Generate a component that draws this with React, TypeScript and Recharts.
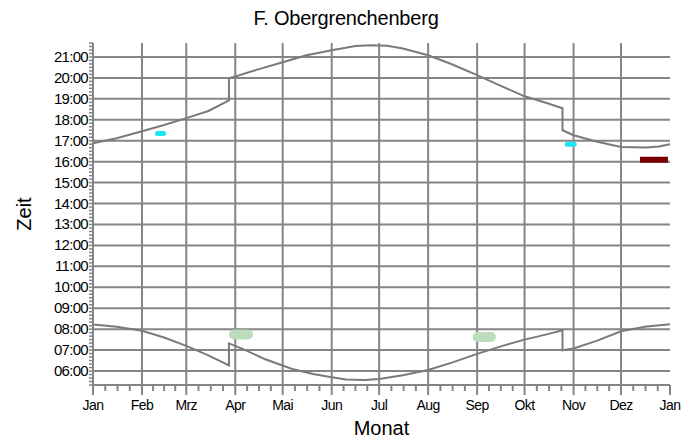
import { ComposedChart, Line, XAxis, YAxis, ReferenceLine } from 'recharts'

const FONT = '"Liberation Sans", Arial, sans-serif'
const GRID = '#858585'
const LINE = '#7a7a7a'

// day of year at the start of each month, and the labels under them
const monthStarts = [0, 31, 59, 90, 120, 151, 181, 212, 243, 273, 304, 334, 365]
const monthLabels = ['Jan', 'Feb', 'Mrz', 'Apr', 'Mai', 'Jun', 'Jul', 'Aug', 'Sep', 'Okt', 'Nov', 'Dez', 'Jan']
const hourTicks = [6, 7, 8, 9, 10, 11, 12, 13, 14, 15, 16, 17, 18, 19, 20, 21]

// sunset (upper curve), hours
const sunsetDays = [0, 15, 31, 45, 59, 73, 86, 86, 90, 105, 120, 135, 151, 166, 176, 186, 196, 212, 227, 243, 258, 273, 287, 297, 297, 304, 319, 334, 350, 358, 365]
const sunsetTimes = [16.88, 17.12, 17.45, 17.75, 18.08, 18.42, 18.93, 19.98, 20.07, 20.42, 20.75, 21.08, 21.32, 21.52, 21.56, 21.53, 21.4, 21.08, 20.65, 20.13, 19.62, 19.12, 18.8, 18.55, 17.5, 17.26, 16.95, 16.7, 16.68, 16.72, 16.83]

// sunrise (lower curve), hours
const sunriseDays = [0, 15, 31, 45, 59, 73, 86, 86, 95, 109, 126, 140, 151, 160, 172, 181, 196, 212, 227, 243, 258, 273, 287, 297, 297, 304, 319, 334, 349, 365]
const sunriseTimes = [8.22, 8.12, 7.92, 7.6, 7.2, 6.75, 6.27, 7.32, 7.05, 6.56, 6.1, 5.85, 5.7, 5.6, 5.57, 5.62, 5.8, 6.05, 6.4, 6.82, 7.18, 7.5, 7.75, 7.95, 6.99, 7.08, 7.45, 7.9, 8.12, 8.23]

// observation marks
const cyanFebDays = [40.8, 44.6]
const cyanFebTimes = [17.35, 17.35]
const cyanNovDays = [300, 304.4]
const cyanNovTimes = [16.83, 16.83]
const redDecDays = [346, 363.7]
const redDecTimes = [16.09, 16.09]
const greenAprDays = [89.2, 98]
const greenAprTimes = [7.75, 7.75]
const greenSepDays = [243.3, 251.7]
const greenSepTimes = [7.63, 7.63]

const toPoints = (days: number[], times: number[]) => days.map((day, i) => ({ day, t: times[i] }))

const xTicks = monthStarts
  .slice(0, -1)
  .flatMap((d, i) => {
    const len = monthStarts[i + 1] - d
    return [0, 1, 2, 3].map((k) => d + (k * len) / 4)
  })
  .concat(365)

const yTicks: number[] = []
for (let m = 32; m <= 130; m += 1) yTicks.push(m / 6)

const XTick = (props: any) => {
  const { x, y, payload } = props
  const i = monthStarts.indexOf(payload.value)
  const major = i >= 0
  return (
    <g>
      <line x1={x} x2={x} y1={y} y2={y + (major ? 10 : 6)} stroke={GRID} strokeWidth={2} />
      {major && (
        <text x={x} y={y + 25} textAnchor="middle" fontSize={14} fontFamily={FONT} fill="#000" letterSpacing={-0.6}>
          {monthLabels[i]}
        </text>
      )}
    </g>
  )
}

const YTick = (props: any) => {
  const { x, y, payload } = props
  const v = payload.value
  const major = Math.abs(v - Math.round(v)) < 1e-6
  return (
    <g>
      <line x1={x - 4} x2={x} y1={y} y2={y} stroke={GRID} strokeWidth={1.5} />
      {major && (
        <text x={x - 5} y={y + 5} textAnchor="end" fontSize={15} fontFamily={FONT} fill="#000" letterSpacing={-0.7}>
          {String(Math.round(v)).padStart(2, '0') + ':00'}
        </text>
      )}
    </g>
  )
}

const ZeitLabel = (props: any) => {
  const vb = props.viewBox
  const cx = vb.x + 31
  const cy = vb.y + vb.height / 2
  return (
    <text x={cx} y={cy} transform={`rotate(-90 ${cx} ${cy})`} textAnchor="middle" fontSize={20} fontFamily={FONT} fill="#000">
      Zeit
    </text>
  )
}

export default function App() {
  return (
    <div style={{ position: 'absolute', left: 0, top: 0, width: 700, height: 439, background: '#fff' }}>
      <div
        style={{
          position: 'absolute',
          left: 0,
          top: 8,
          width: 692,
          textAlign: 'center',
          fontFamily: FONT,
          fontSize: 20,
          lineHeight: 1,
          letterSpacing: -0.2,
          color: '#000',
        }}
      >
        F. Obergrenchenberg
      </div>
      <ComposedChart width={700} height={439} margin={{ top: 43, right: 30, bottom: 0, left: 0 }}>
        <XAxis
          type="number"
          dataKey="day"
          domain={[0, 365]}
          ticks={xTicks}
          interval={0}
          tickSize={0}
          tickMargin={0}
          tickLine={false}
          tick={XTick}
          height={54}
          axisLine={{ stroke: GRID, strokeWidth: 2 }}
          label={{ value: 'Monat', position: 'insideBottom', offset: 4, fontSize: 20, fontFamily: FONT, fill: '#000' }}
        />
        <YAxis
          type="number"
          domain={[32 / 6, 130 / 6]}
          allowDataOverflow
          ticks={yTicks}
          interval={0}
          tickSize={0}
          tickMargin={0}
          tickLine={false}
          tick={YTick}
          width={93}
          axisLine={{ stroke: GRID, strokeWidth: 2 }}
          label={ZeitLabel}
        />
        {hourTicks.map((h) => (
          <ReferenceLine key={'h' + h} y={h} stroke={GRID} strokeWidth={2} />
        ))}
        {monthStarts.slice(1, -1).map((d) => (
          <ReferenceLine key={'m' + d} x={d} stroke={GRID} strokeWidth={2} />
        ))}
        <Line data={toPoints(sunsetDays, sunsetTimes)} dataKey="t" type="linear" stroke={LINE} strokeWidth={2} dot={false} activeDot={false} isAnimationActive={false} />
        <Line data={toPoints(sunriseDays, sunriseTimes)} dataKey="t" type="linear" stroke={LINE} strokeWidth={2} dot={false} activeDot={false} isAnimationActive={false} />
        <Line data={toPoints(cyanFebDays, cyanFebTimes)} dataKey="t" stroke="#1ee6f0" strokeWidth={5} strokeLinecap="round" dot={false} activeDot={false} isAnimationActive={false} />
        <Line data={toPoints(cyanNovDays, cyanNovTimes)} dataKey="t" stroke="#1ee6f0" strokeWidth={5} strokeLinecap="round" dot={false} activeDot={false} isAnimationActive={false} />
        <Line data={toPoints(redDecDays, redDecTimes)} dataKey="t" stroke="#7a0000" strokeWidth={6} strokeLinecap="butt" dot={false} activeDot={false} isAnimationActive={false} />
        <Line data={toPoints(greenAprDays, greenAprTimes)} dataKey="t" stroke="#bcdcbc" strokeWidth={10} strokeLinecap="round" dot={false} activeDot={false} isAnimationActive={false} />
        <Line data={toPoints(greenSepDays, greenSepTimes)} dataKey="t" stroke="#bcdcbc" strokeWidth={10} strokeLinecap="round" dot={false} activeDot={false} isAnimationActive={false} />
      </ComposedChart>
    </div>
  )
}
